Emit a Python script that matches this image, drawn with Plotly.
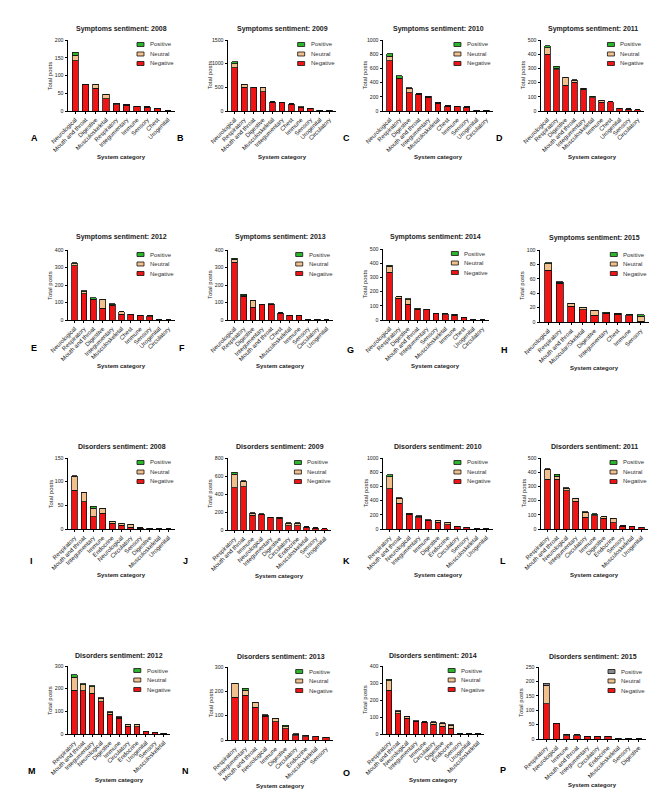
import plotly.graph_objects as go

# ---------------- DATA ----------------
cats_A = ["Neurological", "Mouth and throat", "Digestive", "Musculoskeletal", "Respiratory",
          "Integumentary", "Immune", "Sensory", "Chest", "Urogenital"]
neg_A = [141, 74, 64, 34, 18, 16, 13, 11, 6, 1]
neu_A = [16, 1, 10, 13, 2, 1, 1, 1, 1, 0]
pos_A = [8, 0, 1, 0, 2, 0, 0, 0, 0, 0]

cats_B = ["Neurological", "Respiratory", "Mouth and throat", "Digestive", "Musculoskeletal",
          "Integumentary", "Chest", "Immune", "Sensory", "Urogenital", "Circulatory"]
neg_B = [915, 505, 490, 405, 185, 170, 145, 75, 48, 15, 14]
neu_B = [85, 55, 10, 90, 10, 10, 8, 8, 6, 3, 3]
pos_B = [45, 10, 5, 8, 3, 3, 2, 2, 2, 1, 1]

cats_C = ["Neurological", "Respiratory", "Digestive", "Mouth and throat", "Integumentary",
          "Musculoskeletal", "Chest", "Immune", "Sensory", "Urogenital", "Circulatory"]
neg_C = [705, 455, 260, 235, 195, 110, 70, 58, 50, 10, 8]
neu_C = [65, 8, 60, 5, 10, 10, 4, 6, 8, 3, 2]
pos_C = [33, 35, 8, 4, 6, 3, 1, 2, 3, 1, 0]

cats_D = ["Neurological", "Respiratory", "Digestive", "Mouth and throat", "Integumentary",
          "Musculoskeletal", "Immune", "Chest", "Urogenital", "Sensory", "Circulatory"]
neg_D = [398, 289, 180, 203, 153, 92, 63, 64, 18, 13, 9]
neu_D = [48, 12, 55, 15, 5, 10, 12, 2, 2, 2, 1]
pos_D = [15, 15, 2, 3, 2, 2, 1, 0, 1, 0, 0]

cats_E = ["Neurological", "Respiratory", "Mouth and throat", "Digestive", "Integumentary",
          "Musculoskeletal", "Chest", "Immune", "Sensory", "Urogenital", "Circulatory"]
neg_E = [310, 150, 115, 67, 85, 34, 30, 23, 20, 3, 1]
neu_E = [12, 12, 5, 50, 3, 12, 2, 3, 4, 0, 0]
pos_E = [5, 5, 6, 2, 6, 2, 0, 1, 1, 1, 0]

cats_F = ["Neurological", "Respiratory", "Digestive", "Integumentary", "Mouth and throat",
          "Chest", "Musculoskeletal", "Immune", "Sensory", "Circulatory", "Urogenital"]
neg_F = [330, 135, 73, 90, 87, 40, 27, 27, 4, 4, 1]
neu_F = [18, 5, 38, 1, 3, 1, 1, 1, 1, 1, 0]
pos_F = [6, 8, 3, 0, 2, 0, 0, 0, 0, 0, 0]

cats_G = ["Neurological", "Respiratory", "Digestive", "Mouth and throat", "Integumentary",
          "Sensory", "Musculoskeletal", "Immune", "Chest", "Urogenital", "Circulatory"]
neg_G = [335, 153, 111, 72, 75, 45, 38, 33, 15, 2, 1]
neu_G = [45, 10, 33, 5, 0, 0, 6, 5, 1, 0, 0]
pos_G = [5, 2, 4, 5, 0, 0, 1, 2, 1, 0, 0]

cats_H = ["Neurological", "Respiratory", "Mouth and throat", "Muscular/Skeletal", "Digestive",
          "Integumentary", "Chest", "Immune", "Sensory"]
neg_H = [72, 54, 22, 17, 9.5, 12, 11, 9, 1]
neu_H = [9, 1, 4, 3, 7, 0.5, 1, 1, 7]
pos_H = [1, 1, 0, 0, 0, 1, 0, 0, 2]

cats_I = ["Respiratory", "Mouth and throat", "Integumentary", "Immune", "Endocrine",
          "Neurological", "Circulatory", "Sensory", "Digestive", "Musculoskeletal", "Urogenital"]
neg_I = [82, 58, 26, 33, 12, 8, 4, 2, 1, 1, 0.5]
neu_I = [29, 20, 18, 10, 3, 3, 5, 1, 1, 1, 0.5]
pos_I = [2, 0, 4, 1, 1, 1, 1, 0, 0, 0, 0]

cats_J = ["Respiratory", "Mouth and throat", "Immune", "Neurological", "Integumentary",
          "Digestive", "Circulatory", "Endocrine", "Musculoskeletal", "Sensory", "Urogenital"]
neg_J = [472, 483, 165, 170, 138, 132, 50, 50, 28, 22, 13]
neu_J = [150, 60, 20, 5, 3, 8, 25, 25, 6, 3, 2]
pos_J = [22, 4, 8, 3, 1, 3, 3, 3, 1, 1, 0]

cats_K = ["Respiratory", "Mouth and throat", "Neurological", "Integumentary", "Immune",
          "Digestive", "Endocrine", "Circulatory", "Sensory", "Musculoskeletal", "Urogenital"]
neg_K = [568, 366, 210, 158, 115, 95, 58, 35, 25, 2, 1]
neu_K = [170, 70, 5, 25, 10, 20, 35, 5, 2, 0, 0]
pos_K = [27, 2, 6, 2, 3, 2, 2, 2, 1, 0, 0]

cats_L = ["Respiratory", "Mouth and throat", "Neurological", "Integumentary", "Circulatory",
          "Immune", "Digestive", "Endocrine", "Sensory", "Musculoskeletal", "Urogenital"]
neg_L = [352, 352, 268, 197, 82, 95, 77, 45, 21, 15, 9]
neu_L = [70, 20, 18, 18, 35, 5, 8, 28, 1, 4, 1]
pos_L = [3, 15, 3, 3, 3, 6, 3, 2, 1, 0, 2]

cats_M = ["Respiratory", "Mouth and throat", "Integumentary", "Neurological", "Digestive",
          "Immune", "Circulatory", "Endocrine", "Urogenital", "Sensory", "Musculoskeletal"]
neg_M = [193, 190, 179, 143, 88, 70, 35, 33, 10, 6, 3]
neu_M = [58, 28, 30, 15, 8, 3, 5, 7, 1, 1, 0]
pos_M = [10, 3, 3, 2, 2, 4, 2, 2, 1, 0, 1]

cats_N = ["Respiratory", "Integumentary", "Mouth and throat", "Neurological", "Immune",
          "Digestive", "Circulatory", "Endocrine", "Musculoskeletal", "Sensory"]
neg_N = [176, 184, 134, 97, 76, 46, 17, 13, 14, 10]
neu_N = [55, 20, 20, 5, 12, 8, 7, 5, 0, 0]
pos_N = [3, 8, 1, 2, 2, 6, 1, 1, 1, 1]

cats_O = ["Respiratory", "Mouth and throat", "Neurological", "Integumentary", "Immune",
          "Circulatory", "Digestive", "Endocrine", "Sensory", "Urogenital", "Musculoskeletal"]
neg_O = [256, 118, 94, 72, 70, 58, 47, 33, 3, 1, 0.5]
neu_O = [57, 16, 9, 3, 2, 12, 15, 18, 1, 0, 0]
pos_O = [8, 2, 1, 2, 1, 3, 3, 2, 0, 0, 0]

cats_P = ["Respiratory", "Neurological", "Immune", "Mouth and throat", "Integumentary",
          "Circulatory", "Endocrine", "Musculoskeletal", "Sensory", "Digestive"]
neg_P = [122, 54, 11, 12, 7, 7, 7, 2, 2, 0.5]
neu_P = [64, 1, 5, 2, 2, 2, 2, 1, 1, 0]
pos_P = [7, 0, 1, 0, 0, 0, 0, 0, 0, 0]

titles = ["Symptoms sentiment: 2008", "Symptoms sentiment: 2009", "Symptoms sentiment: 2010",
          "Symptoms sentiment: 2011", "Symptoms sentiment: 2012", "Symptoms sentiment: 2013",
          "Symptoms sentiment: 2014", "Symptoms sentiment: 2015", "Disorders sentiment: 2008",
          "Disorders sentiment: 2009", "Disorders sentiment: 2010", "Disorders sentiment: 2011",
          "Disorders sentiment: 2012", "Disorders sentiment: 2013", "Disorders sentiment: 2014",
          "Disorders sentiment: 2015"]
letters = list("ABCDEFGHIJKLMNOP")
y_max = [200, 1500, 1000, 500, 400, 400, 500, 100, 150, 800, 1000, 500, 300, 300, 400, 250]
y_dtick = [50, 500, 200, 100, 100, 100, 100, 20, 50, 200, 200, 100, 100, 100, 100, 50]
series_labels = ["Negative", "Neutral", "Positive"]

panel_data = [
    (cats_A, neg_A, neu_A, pos_A), (cats_B, neg_B, neu_B, pos_B),
    (cats_C, neg_C, neu_C, pos_C), (cats_D, neg_D, neu_D, pos_D),
    (cats_E, neg_E, neu_E, pos_E), (cats_F, neg_F, neu_F, pos_F),
    (cats_G, neg_G, neu_G, pos_G), (cats_H, neg_H, neu_H, pos_H),
    (cats_I, neg_I, neu_I, pos_I), (cats_J, neg_J, neu_J, pos_J),
    (cats_K, neg_K, neu_K, pos_K), (cats_L, neg_L, neu_L, pos_L),
    (cats_M, neg_M, neu_M, pos_M), (cats_N, neg_N, neu_N, pos_N),
    (cats_O, neg_O, neu_O, pos_O), (cats_P, neg_P, neu_P, pos_P),
]

# ---------------- LAYOUT (pixel boxes: left, right, top, bottom) ----------------
W, H = 666, 799
boxes = [
    (60, 167, 32, 103), (220, 328, 32, 103), (375, 485, 32, 103), (533, 636, 32, 103),
    (60, 167, 242, 312), (220, 325, 242, 312), (375, 481, 241, 312), (532, 641, 242, 314),
    (60, 167, 450, 521), (220, 323, 450, 522), (375, 485, 450, 521), (533, 640, 450, 521),
    (60, 162, 658, 726), (220, 325, 659, 732), (375, 476, 658, 726), (531, 638, 659, 731),
]
title_y = [21, 21, 21, 21, 229, 229, 229, 230, 438, 438, 438, 438, 647, 648, 647, 648]
letter_pos = [(26, 130), (173, 130), (338, 130), (491, 130),
              (26, 340), (174, 340), (342, 342), (496, 342),
              (23, 553), (177, 553), (338, 553), (495, 553),
              (24, 763), (177, 763), (338, 765), (495, 762)]

RED = "#f01414"
TAN = "#f2c08c"
GREEN = "#2cb52c"
GREY = "#8a8a8a"
FONT = "Liberation Sans, Arial, sans-serif"


def px(x):
    return x / W


def py(y):
    return 1 - y / H


fig = go.Figure()
shapes = []
annotations = []

for i, (cats, neg, neu, pos) in enumerate(panel_data):
    n = i + 1
    xa = "x" if n == 1 else f"x{n}"
    ya = "y" if n == 1 else f"y{n}"
    pos_col = GREY if letters[i] == "P" else GREEN
    cols = [RED, TAN, pos_col]
    for label, vals, col in zip(series_labels, (neg, neu, pos), cols):
        fig.add_trace(go.Bar(
            x=cats, y=vals, name=label, xaxis=xa, yaxis=ya, showlegend=False,
            width=0.62, marker=dict(color=col, line=dict(color="#111111", width=0.8)),
        ))
    x0, x1, yt, yb = boxes[i]
    fig.layout[f"xaxis{'' if n == 1 else n}"] = dict(
        domain=[px(x0), px(x1)], anchor=ya, type="category", automargin=False,
        range=[-0.7, len(cats) - 0.3], showline=True, linecolor="black", linewidth=1,
        ticks="outside", ticklen=2, tickwidth=1, tickcolor="black", tickangle=-45,
        tickfont=dict(size=6, family=FONT, color="#222"), showgrid=False, zeroline=False,
        fixedrange=True,
    )
    fig.layout[f"yaxis{'' if n == 1 else n}"] = dict(
        domain=[py(yb), py(yt)], anchor=xa, range=[0, y_max[i]], dtick=y_dtick[i],
        tick0=0, showline=True, linecolor="black", linewidth=1, ticks="outside",
        ticklen=2.5, tickwidth=1, tickcolor="black", automargin=False,
        tickfont=dict(size=5.2, family=FONT, color="#222"), showgrid=False, zeroline=False,
        fixedrange=True,
    )
    cx = (x0 + x1) / 2
    # title
    annotations.append(dict(x=px(cx), y=py(title_y[i]), xref="paper", yref="paper",
                            text=f"<b>{titles[i]}</b>", showarrow=False,
                            font=dict(size=7, family=FONT, color="#222"),
                            xanchor="center", yanchor="middle"))
    # y axis title
    annotations.append(dict(x=px(x0 - 18), y=py((yt + yb) / 2), xref="paper", yref="paper",
                            text="Total posts", textangle=-90, showarrow=False,
                            font=dict(size=6, family=FONT, color="#222"),
                            xanchor="center", yanchor="middle"))
    # x axis title
    annotations.append(dict(x=px(cx), y=py(yb + 46), xref="paper", yref="paper",
                            text="<b>System category</b>", showarrow=False,
                            font=dict(size=6, family=FONT, color="#222"),
                            xanchor="center", yanchor="middle"))
    # panel letter
    lx, ly = letter_pos[i]
    annotations.append(dict(x=px(lx), y=py(ly), xref="paper", yref="paper",
                            text=f"<b>{letters[i]}</b>", showarrow=False,
                            font=dict(size=9, family=FONT, color="black"),
                            xanchor="center", yanchor="middle"))
    # legend
    bx = x0 + 0.645 * (x1 - x0)
    for k, (label, col) in enumerate([("Positive", pos_col), ("Neutral", TAN), ("Negative", RED)]):
        ey = yt + 4.5 + 9.5 * k
        shapes.append(dict(type="rect", xref="paper", yref="paper",
                           x0=px(bx), x1=px(bx + 7), y0=py(ey + 2), y1=py(ey - 2),
                           fillcolor=col, line=dict(color="#111111", width=0.8)))
        annotations.append(dict(x=px(bx + 11), y=py(ey), xref="paper", yref="paper",
                                text=label, showarrow=False,
                                font=dict(size=6, family=FONT, color="#333"),
                                xanchor="left", yanchor="middle"))

fig.update_layout(
    template="none",
    width=W, height=H, margin=dict(l=0, r=0, t=0, b=0, autoexpand=False),
    barmode="stack", bargap=0.38, plot_bgcolor="white", paper_bgcolor="white",
    shapes=shapes, annotations=annotations, showlegend=False,
)

fig.write_html("out.html", config={"displayModeBar": False})
